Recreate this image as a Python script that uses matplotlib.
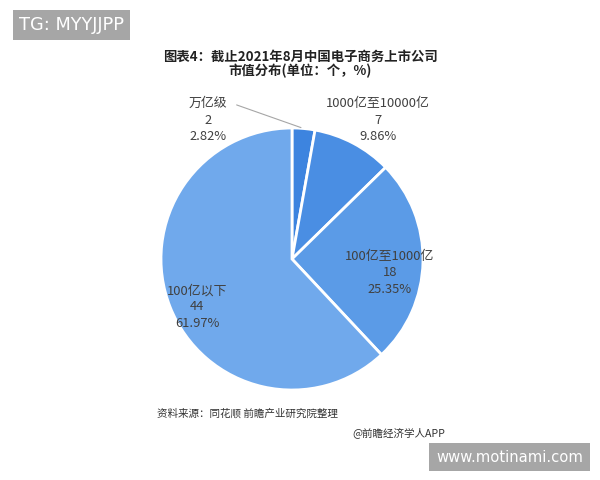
import numpy as np
import matplotlib.pyplot as plt

plt.rcParams['font.family'] = ['Noto Sans CJK SC', 'DejaVu Sans']

# 数据
categories = ['万亿级', '1000亿至10000亿', '100亿至1000亿', '100亿以下']
counts = [2, 7, 18, 44]
shares = ['2.82%', '9.86%', '25.35%', '61.97%']
colors = ['#3d84df', '#4a8ee3', '#5b9be7', '#70a9ec']

fig = plt.figure(figsize=(6, 4.8), dpi=100)
fig.patch.set_facecolor('white')

# 饼图
cx, cy, r = 292, 259, 131
ax = fig.add_axes([(cx - r) / 600, (480 - cy - r) / 480, 2 * r / 600, 2 * r / 480])
wedges, _ = ax.pie(counts, colors=colors, startangle=90, counterclock=False,
                   wedgeprops=dict(edgecolor='white', linewidth=2))
ax.set_xlim(-1, 1)
ax.set_ylim(-1, 1)
ax.set_aspect('auto')

# 标签位置 (像素)
label_pos = [(208, 120), (378, 120), (390, 273), (197, 307)]
for name, n, s, (px, py) in zip(categories, counts, shares, label_pos):
    fig.text(px / 600, 1 - py / 480, f'{name}\n{n}\n{s}', ha='center', va='center',
             fontsize=9.3, color='#404040', linespacing=1.32)

# 万亿级 引线
ang = np.deg2rad(90 - counts[0] / sum(counts) * 360 / 2)
ax.annotate('', xy=(np.cos(ang), np.sin(ang)), xycoords='data',
            xytext=(234 / 600, 1 - 104 / 480), textcoords='figure fraction',
            arrowprops=dict(arrowstyle='-', color='#a6a6a6', lw=0.8))

# 标题
fig.text(0.5, 1 - 64 / 480, '图表4：截止2021年8月中国电子商务上市公司\n市值分布(单位：个，%)',
         ha='center', va='center', fontsize=9.6, fontweight='bold', color='#222222',
         linespacing=1.0)

# 来源
fig.text(157 / 600, 1 - 413 / 480, '资料来源：同花顺 前瞻产业研究院整理', ha='left', va='center',
         fontsize=7.6, color='#333333')
fig.text(352 / 600, 1 - 433 / 480, '@前瞻经济学人APP', ha='left', va='center',
         fontsize=7.6, color='#333333')

# 水印框
fig.text(19 / 600, 1 - 25 / 480, 'TG: MYYJJPP', ha='left', va='center', fontsize=12.8,
         color='white', family=['DejaVu Sans'],
         bbox=dict(boxstyle='square,pad=0.35', facecolor='#a6a6a6', edgecolor='none'))
fig.text(436 / 600, 1 - 457 / 480, 'www.motinami.com', ha='left', va='center', fontsize=10.6,
         color='white', family=['DejaVu Sans'],
         bbox=dict(boxstyle='square,pad=0.45', facecolor='#a6a6a6', edgecolor='none'))

fig.savefig('out.png', dpi=100)
